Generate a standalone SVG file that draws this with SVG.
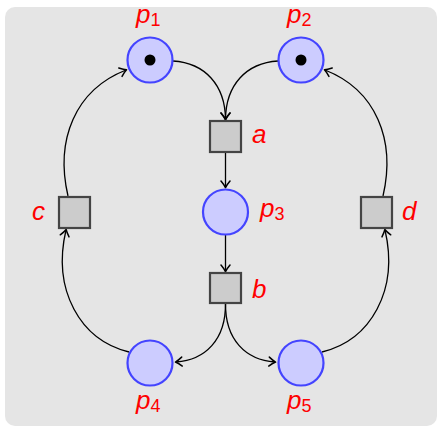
<svg xmlns="http://www.w3.org/2000/svg" width="442" height="430" viewBox="0 0 442 430">
<defs>
<marker id="arr" markerWidth="12" markerHeight="12" viewBox="-7 -6 9 12" refX="0" refY="0" orient="auto" markerUnits="userSpaceOnUse">
<path d="M-6,-4.5 Q-2,-1.2 0.6,0 Q-2,1.2 -6,4.5" fill="none" stroke="#000" stroke-width="1.5" stroke-linecap="round" stroke-linejoin="round"/>
</marker>
</defs>
<style>
.pl{fill:#ccccff;stroke:#4444ff;stroke-width:2.2}
.tr{fill:#cccccc;stroke:#444444;stroke-width:2.2}
.tok{fill:#000}
.c{fill:none;stroke:#000;stroke-width:1.3;marker-end:url(#arr)}
.lb{font-family:"Liberation Sans","DejaVu Sans",sans-serif;font-style:italic;font-size:26px;fill:#ff0000}
.sb{font-style:normal;font-size:18px}
</style>
<rect x="5" y="7" width="432" height="419" rx="10" ry="10" fill="#e5e5e5"/>
<g id="connectors">
<path class="c" d="M173,61 C205,63 225,85 225.5,119"/>
<path class="c" d="M278,61 C246,63 226,85 225.5,119"/>
<path class="c" d="M225.5,152 L225.5,187"/>
<path class="c" d="M225.5,235 L225.5,271"/>
<path class="c" d="M225.5,303 C226,340 205,360 176,362"/>
<path class="c" d="M225.5,303 C225,340 246,360 275,362"/>
<path class="c" d="M129,352 C80,340 52,290 66,230"/>
<path class="c" d="M68,196 C55,140 75,90 126,70"/>
<path class="c" d="M322,352 C371,340 399,290 385,230"/>
<path class="c" d="M383,196 C396,140 376,90 325,70"/>
</g>
<g id="p1"><circle class="pl" cx="150" cy="60" r="22.5"/><circle class="tok" cx="150" cy="60" r="5.5"/><text class="lb" x="136" y="23">p<tspan class="sb" dy="3">1</tspan></text></g>
<g id="p2"><circle class="pl" cx="301" cy="60" r="22.5"/><circle class="tok" cx="301" cy="60" r="5.5"/><text class="lb" x="287" y="23">p<tspan class="sb" dy="3">2</tspan></text></g>
<g id="p3"><circle class="pl" cx="225.5" cy="212" r="22.5"/><text class="lb" x="260" y="217">p<tspan class="sb" dy="3">3</tspan></text></g>
<g id="p4"><circle class="pl" cx="150" cy="363" r="22.5"/><text class="lb" x="136" y="409">p<tspan class="sb" dy="3">4</tspan></text></g>
<g id="p5"><circle class="pl" cx="301" cy="363" r="22.5"/><text class="lb" x="287" y="409">p<tspan class="sb" dy="3">5</tspan></text></g>
<g id="a"><rect class="tr" x="210" y="121" width="31" height="31"/><text class="lb" x="252" y="143">a</text></g>
<g id="b"><rect class="tr" x="210" y="273" width="31" height="30"/><text class="lb" x="252" y="298">b</text></g>
<g id="c"><rect class="tr" x="59" y="197" width="31" height="31"/><text class="lb" x="32" y="220">c</text></g>
<g id="d"><rect class="tr" x="361" y="197" width="31" height="31"/><text class="lb" x="402" y="220">d</text></g>
</svg>
